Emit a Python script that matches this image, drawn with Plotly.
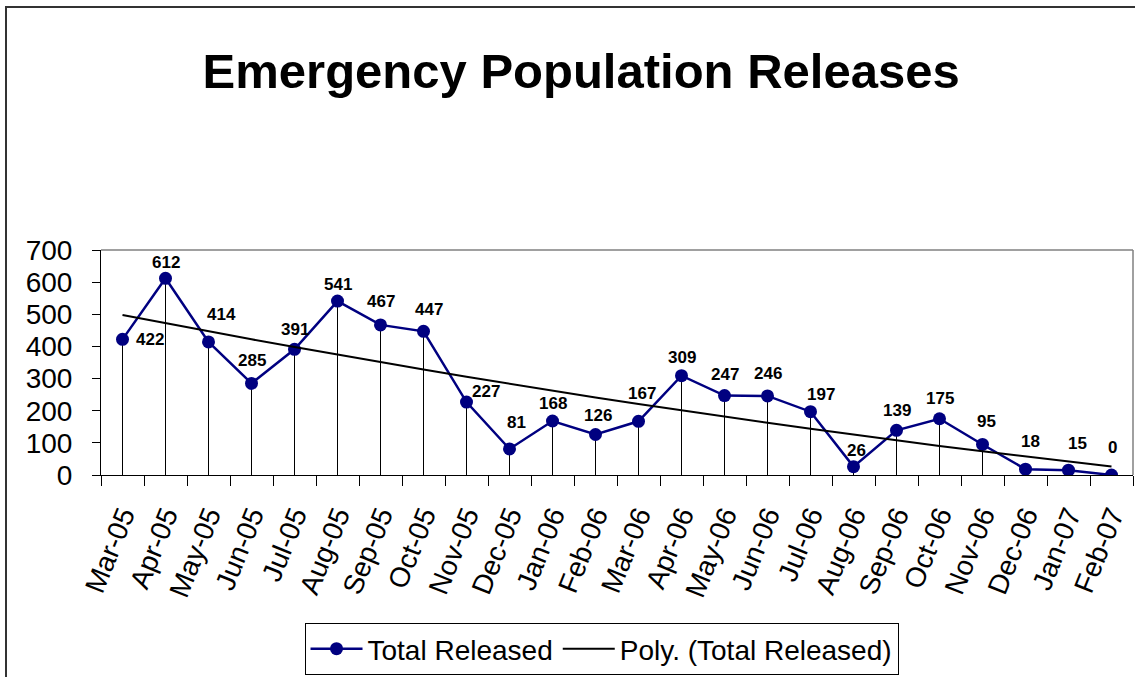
import numpy as np
import plotly.graph_objects as go

months = ["Mar-05", "Apr-05", "May-05", "Jun-05", "Jul-05", "Aug-05", "Sep-05", "Oct-05",
          "Nov-05", "Dec-05", "Jan-06", "Feb-06", "Mar-06", "Apr-06", "May-06", "Jun-06",
          "Jul-06", "Aug-06", "Sep-06", "Oct-06", "Nov-06", "Dec-06", "Jan-07", "Feb-07"]
total_released = [422, 612, 414, 285, 391, 541, 467, 447, 227, 81, 168, 126,
                  167, 309, 247, 246, 197, 26, 139, 175, 95, 18, 15, 0]
y_ticks = [0, 100, 200, 300, 400, 500, 600, 700]

# label offsets (pixels) - styling only
label_dx = [27, 0, 13, 0, 0, 0, 0, 5, 19, 7, 0, 2, 3, 0, 0, 0, 10, 3, 0, 0, 4, 5, 9, 1]
label_dy = [0, 16, 27, 23, 20, 17, 23, 22, 11, 26, 18, 19, 28, 18, 21, 22, 17, 16, 20, 20, 23, 28, 27, 28]

xi = np.arange(len(total_released))
coef = np.polyfit(xi, total_released, 2)
trend = np.polyval(coef, xi)

FONT = "Arial, Liberation Sans, sans-serif"
NAVY = "#000080"

fig = go.Figure()
fig.add_trace(go.Scatter(
    x=months, y=total_released, mode="lines+markers", name="Total Released",
    line=dict(color=NAVY, width=2.5),
    marker=dict(color=NAVY, size=13),
    error_y=dict(type="data", symmetric=False, array=[0] * len(total_released),
                 arrayminus=total_released, color="black", thickness=1, width=0),
))
fig.add_trace(go.Scatter(
    x=months, y=trend, mode="lines", name="Poly. (Total Released)",
    line=dict(color="black", width=2),
))

for m, v, dx, dy in zip(months, total_released, label_dx, label_dy):
    fig.add_annotation(x=m, y=v, text=str(v), showarrow=False, xshift=dx, yshift=dy,
                       font=dict(family=FONT, size=17, color="black", weight="bold"))

# plot-area border (top/right, gray)
fig.add_shape(type="line", xref="paper", yref="paper", x0=0, x1=1, y0=1, y1=1,
              line=dict(color="#808080", width=1.5))
fig.add_shape(type="line", xref="paper", yref="paper", x0=1, x1=1, y0=0, y1=1,
              line=dict(color="#808080", width=1.5))
# outer chart frame
fig.add_shape(type="rect", xref="paper", yref="paper",
              x0=(6 - 101) / 1032, x1=(1150 - 101) / 1032,
              y0=(475 - 700) / 225, y1=(475 - 7) / 225,
              line=dict(color="#333333", width=2))

fig.update_layout(
    width=1135, height=677,
    margin=dict(l=101, r=2, t=250, b=202, autoexpand=False),
    paper_bgcolor="white", plot_bgcolor="white",
    font=dict(family=FONT, color="black"),
    title=dict(text="Emergency Population Releases", x=0.512, xref="container",
               xanchor="center", y=1 - 71 / 677, yref="container", yanchor="middle",
               font=dict(family=FONT, size=49, color="black", weight="bold")),
    showlegend=True,
    legend=dict(orientation="h", x=0.485, xanchor="center", y=-(675 - 475) / 225,
                yanchor="bottom", bordercolor="black", borderwidth=1,
                font=dict(family=FONT, size=28, color="black"),
                bgcolor="white", itemwidth=52),
)
fig.update_xaxes(
    type="category", range=[-0.5, len(months) - 0.5],
    showgrid=False, showline=True, linecolor="black", linewidth=1,
    ticks="outside", ticklen=10, tickcolor="black", tickson="boundaries",
    tickangle=-68, tickfont=dict(family=FONT, size=28, color="black"),
    ticklabelstandoff=12, zeroline=False, automargin=False,
)
fig.update_yaxes(
    range=[0, 700], tickvals=y_ticks, showgrid=False, showline=True,
    linecolor="black", linewidth=1, ticks="outside", ticklen=8, tickcolor="black",
    tickfont=dict(family=FONT, size=28, color="black"), ticklabelstandoff=14,
    zeroline=False, automargin=False,
)

fig.write_html("out.html", config={"displayModeBar": False},
               post_script="document.body.style.margin='0px';document.body.style.overflow='hidden';")
